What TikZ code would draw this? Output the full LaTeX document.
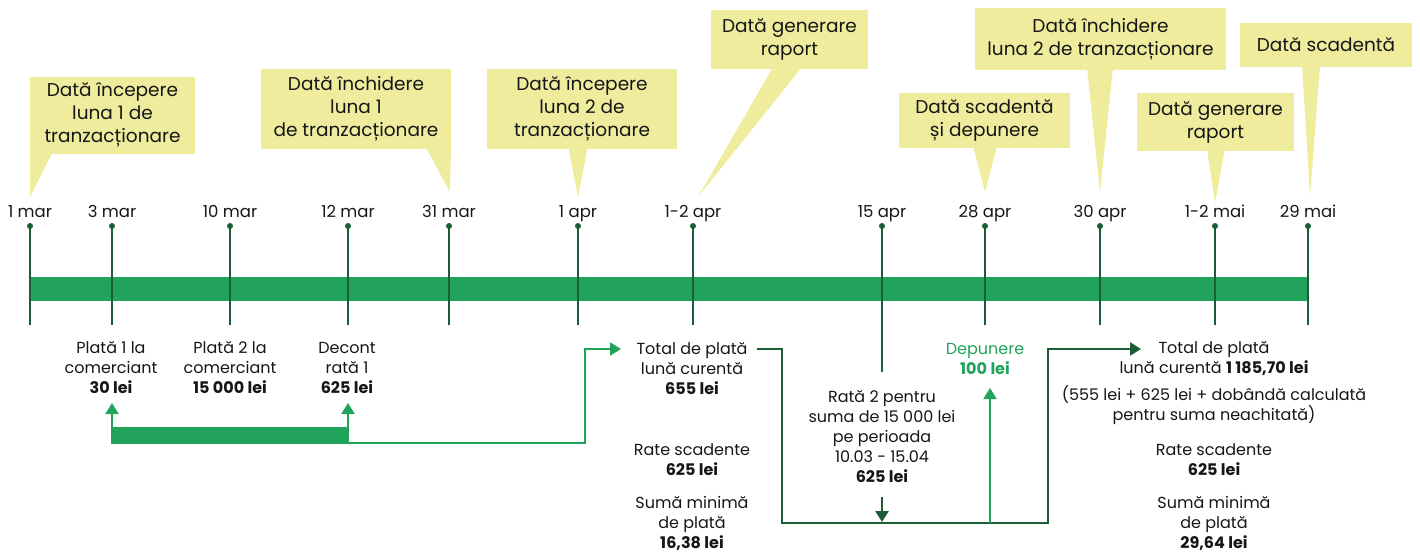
\documentclass[tikz,border=0pt]{standalone}
\usepackage{fontspec}
\setmainfont{Poppins}
\usetikzlibrary{arrows.meta}
\definecolor{gbar}{HTML}{21A35B}
\definecolor{gdark}{HTML}{1B5E36}
\definecolor{ylw}{HTML}{EFEC9E}
\definecolor{txt}{HTML}{161616}
\begin{document}
\begin{tikzpicture}[x=1pt,y=-1pt,
  datelab/.style={text=txt, font=\fontsize{16.5}{18}\selectfont, inner sep=0, anchor=base},
  callout/.style={fill=ylw, inner sep=0, align=center, text=txt, font=\fontsize{18.5}{23}\selectfont},
  ptr/.style={fill=ylw},
  info/.style={align=center, text=txt, inner sep=0, font=\fontsize{16}{20}\selectfont},
  tick/.style={gdark, line width=2},
  conn/.style={gdark, line width=2.5},
  gconn/.style={gbar, line width=2},
  tip/.style={-{Triangle[length=11,width=13]}}
]
\useasboundingbox (0,0) rectangle (1420,554);
% main bar
\fill[gbar] (30,277) rectangle (1308,301);
% ticks
\foreach \x/\lab/\n in {30/1 mar/a,112/3 mar/b,230/10 mar/c,348/12 mar/d,449/31 mar/e,578/1 apr/f,693/1-2 apr/g,882/15 apr/h,985/28 apr/i,1100/30 apr/j,1215/1-2 mai/k,1308/29 mai/l}{
  \draw[tick] (\x,226) -- (\x,325);
  \fill[gdark] (\x,226) circle (3);
  \node[datelab] (d\n) at (\x,217) {\lab};
}
\draw[tick] (882,325) -- (882,372);
% callouts
\node[callout, minimum width=165, minimum height=77] (c1) at (112.5,115) {Dată începere\\luna 1 de\\tranzacționare};
\fill[ptr] (30,151) -- (53,151) -- (30,197) -- cycle;
\node[callout, minimum width=190, minimum height=80] (c2) at (356,108.5) {Dată închidere\\luna 1\\de tranzacționare};
\fill[ptr] (425,146) -- (451,146) -- (450,192) -- cycle;
\node[callout, minimum width=190, minimum height=80] (c3) at (582,108.5) {Dată începere\\luna 2 de\\tranzacționare};
\fill[ptr] (568,146) -- (588,146) -- (578,197) -- cycle;
\node[callout, minimum width=157, minimum height=59] (c4) at (789.5,39.5) {Dată generare\\raport};
\fill[ptr] (773,67) -- (802,67) -- (698,197) -- cycle;
\node[callout, minimum width=171, minimum height=55] (c5) at (984.5,120.5) {Dată scadentă\\și depunere};
\fill[ptr] (973,146) -- (997,146) -- (985,192) -- cycle;
\node[callout, minimum width=251, minimum height=62] (c6) at (1100.5,39) {Dată închidere\\luna 2 de tranzacționare};
\fill[ptr] (1087,68) -- (1113,68) -- (1100,192) -- cycle;
\node[callout, minimum width=157, minimum height=58] (c7) at (1215.5,122) {Dată generare\\raport};
\fill[ptr] (1207,149) -- (1225,149) -- (1215,203) -- cycle;
\node[callout, minimum width=172, minimum height=44] (c8) at (1326,44.5) {Dată scadentă};
\fill[ptr] (1302,65) -- (1320,65) -- (1310,197) -- cycle;
% info texts
\node[info] (b1) at (111,368) {Plată 1 la\\comerciant\\\textbf{30 lei}};
\node[info] (b2) at (230,368) {Plată 2 la\\comerciant\\\textbf{15 000 lei}};
\node[info] (b3) at (347,368) {Decont\\rată 1\\\textbf{625 lei}};
\node[info] (t1) at (692,369) {Total de plată\\lună curentă\\\textbf{655 lei}};
\node[info] (r2) at (882,437) {Rată 2 pentru\\suma de 15 000 lei\\pe perioada\\10.03 - 15.04\\\textbf{625 lei}};
\node[info, text=gbar] (dep) at (985,359) {Depunere\\\textbf{100 lei}};
\node[info] (rs1) at (692,460) {Rate scadente\\\textbf{625 lei}};
\node[info] (sm1) at (692,523) {Sumă minimă\\de plată\\\textbf{16,38 lei}};
\node[info] (t2) at (1214,359) {Total de plată\\lună curentă \textbf{1 185,70 lei}};
\node[info] (par) at (1214,405) {(555 lei + 625 lei + dobândă calculată\\pentru suma neachitată)};
\node[info] (rs2) at (1214,460) {Rate scadente\\\textbf{625 lei}};
\node[info] (sm2) at (1214,523) {Sumă minimă\\de plată\\\textbf{29,64 lei}};
% connectors
\coordinate (p1) at (112,403);
\coordinate (p3) at (348,403);
\fill[gbar] (111,427) rectangle (349,444);
\draw[gconn, tip] (112,428) -- (p1);
\draw[gconn, tip] (348,428) -- (p3);
\coordinate (t1in) at (621,349);
\draw[gconn, tip] (348,443) -- (585,443) -- (585,349) -- (t1in);
\coordinate (t1out) at (757,349);
\coordinate (t2in) at (1141,349);
\draw[conn, tip] (t1out) -- (782,349) -- (782,523) -- (1048,523) -- (1048,349) -- (t2in);
\coordinate (r2d) at (882,522);
\draw[conn, tip] (882,497) -- (r2d);
\coordinate (depu) at (990,388);
\draw[gconn, tip] (990,523) -- (depu);
\end{tikzpicture}
\end{document}
